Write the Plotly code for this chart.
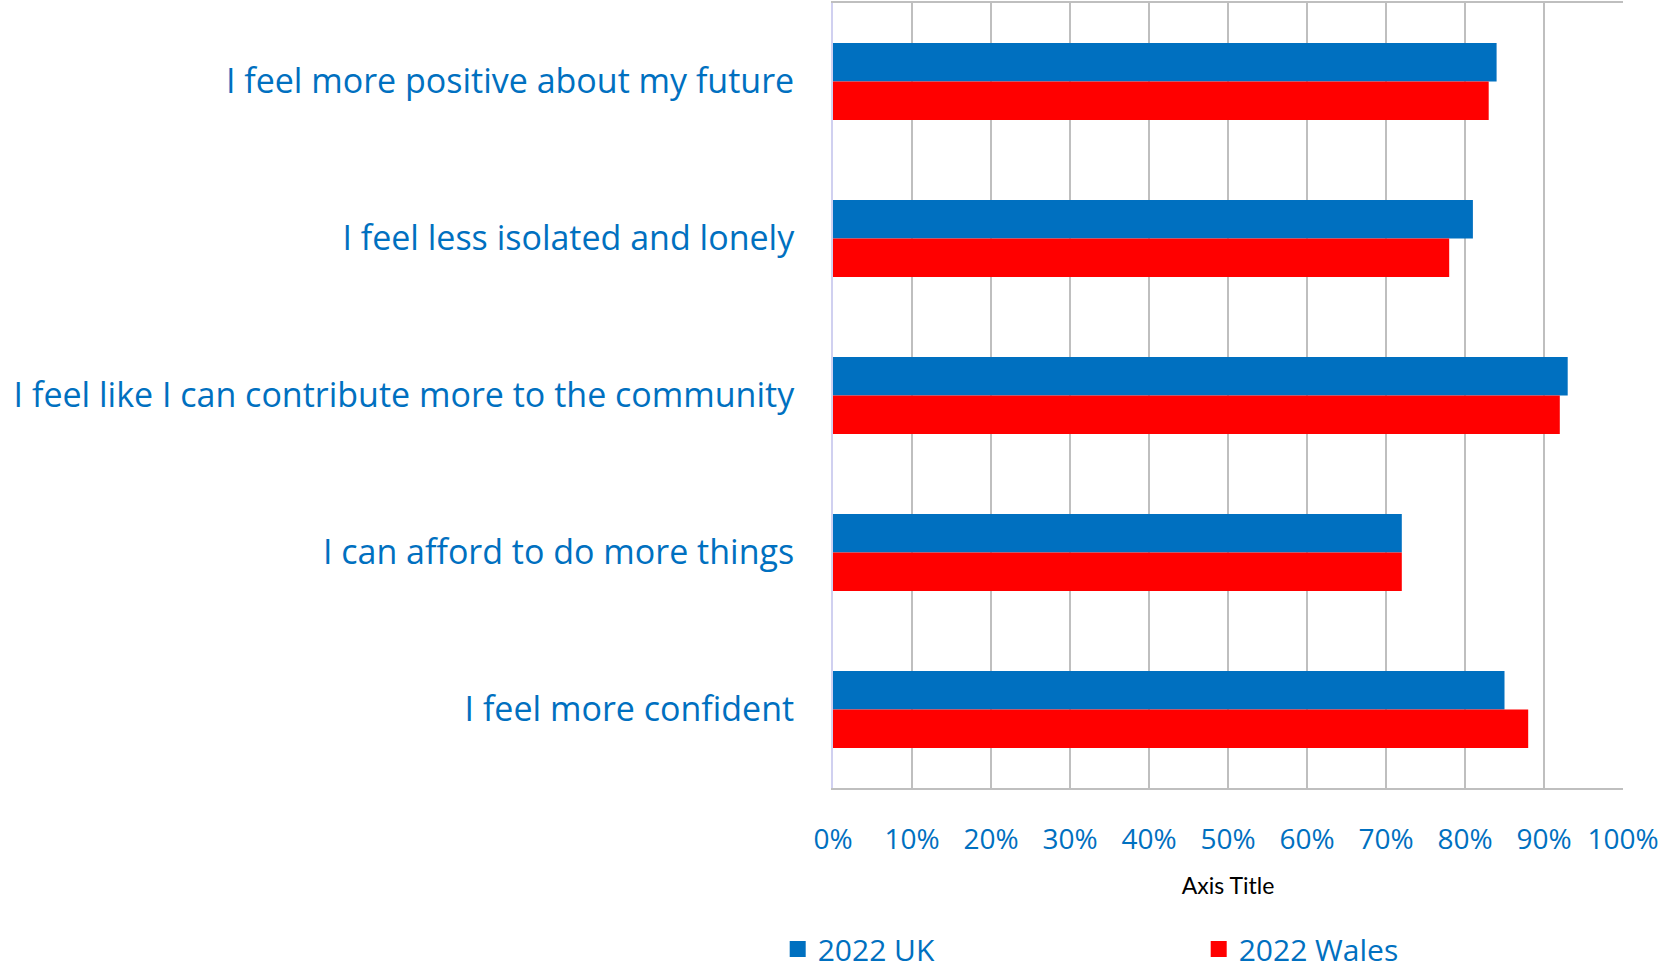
import plotly.graph_objects as go

categories = [
    "I feel more positive about my future",
    "I feel less isolated and lonely",
    "I feel like I can contribute more to the community",
    "I can afford to do more things",
    "I feel more confident",
]
uk_2022 = [0.84, 0.81, 0.93, 0.72, 0.85]
wales_2022 = [0.83, 0.78, 0.92, 0.72, 0.88]
series_names = ["2022 UK", "2022 Wales"]
x_tick_values = [i / 10 for i in range(11)]
x_tick_labels = [f"{i * 10}%" for i in range(11)]

BLUE = "#0070C0"
RED = "#FF0000"
FONT = "Open Sans"

fig = go.Figure()
for name, vals, col in [(series_names[0], uk_2022, BLUE), (series_names[1], wales_2022, RED)]:
    fig.add_trace(go.Bar(y=categories, x=vals, name=name, orientation="h",
                         marker=dict(color=col, line=dict(width=0)),
                         showlegend=False, legendgroup=name))
# legend entries with larger square symbols
for name, col in [(series_names[0], BLUE), (series_names[1], RED)]:
    fig.add_trace(go.Scatter(x=[None], y=[None], mode="markers", name=name,
                             legendgroup=name,
                             marker=dict(symbol="square", size=22, color=col)))

fig.update_layout(
    width=1665, height=974,
    margin=dict(l=833, r=42, t=3, b=186, autoexpand=False),
    paper_bgcolor="white", plot_bgcolor="white",
    barmode="group", bargap=0.51, bargroupgap=0,
    font=dict(family=FONT, color=BLUE),
    xaxis=dict(
        range=[0, 1], tickvals=x_tick_values, ticktext=x_tick_labels,
        showgrid=True, gridcolor="#BFBFBF", gridwidth=2,
        showline=True, linecolor="#BFBFBF", linewidth=2, mirror=True,
        zeroline=False, ticks="", ticklabelstandoff=25,
        tickfont=dict(size=28, color=BLUE, family=FONT),
        title=dict(text="Axis Title", font=dict(size=23, color="black", family="Lato"), standoff=22),
        fixedrange=True,
    ),
    yaxis=dict(
        autorange="reversed", showgrid=False, zeroline=False,
        showline=True, linecolor="#D0D0F0", linewidth=2,
        ticks="", ticklabelstandoff=30,
        tickfont=dict(size=34, color=BLUE, family=FONT),
    ),
    legend=dict(
        orientation="h", x=-0.07, xanchor="left", y=-0.172, yanchor="top",
        font=dict(size=30, color=BLUE, family=FONT),
        entrywidth=376, entrywidthmode="pixels", itemsizing="trace",
        bgcolor="rgba(0,0,0,0)",
    ),
    showlegend=True,
)

fig.write_html(
    "out.html",
    config={"displayModeBar": False},
    post_script="document.body.style.margin='0';document.body.style.overflow='hidden';",
)
